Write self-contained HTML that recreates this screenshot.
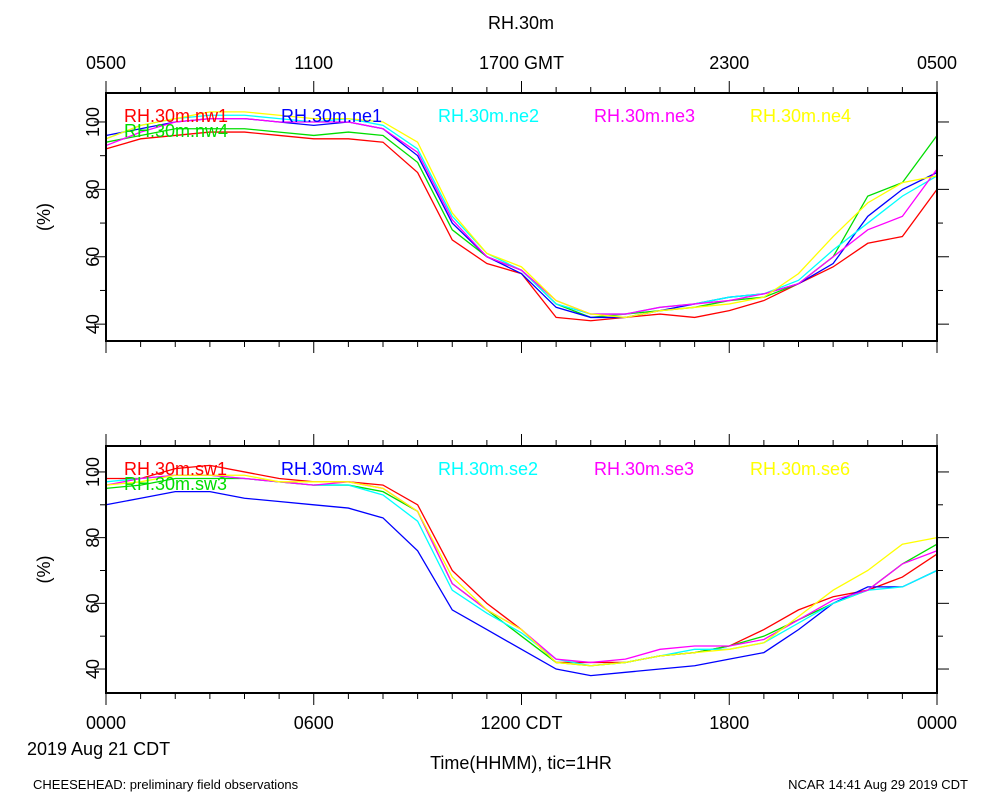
<!DOCTYPE html>
<html><head><meta charset="utf-8"><style>
body{margin:0;background:#fff}
svg text{font-family:"Liberation Sans",sans-serif}
</style></head><body>
<svg id="c" width="1000" height="800" xmlns="http://www.w3.org/2000/svg">
<text x="521" y="29" font-size="18" text-anchor="middle">RH.30m</text>
<text x="521" y="769" font-size="18" text-anchor="middle">Time(HHMM), tic=1HR</text>
<text x="27" y="755" font-size="18">2019 Aug 21 CDT</text>
<text x="33" y="789" font-size="13">CHEESEHEAD: preliminary field observations</text>
<text x="968" y="789" font-size="13" text-anchor="end">NCAR 14:41 Aug 29 2019 CDT</text>
</svg>
<script>
const hours=[0,1,2,3,4,5,6,7,8,9,10,11,12,13,14,15,16,17,18,19,20,21,22,23,24];
const topTickLabels=["0500","1100","1700 GMT","2300","0500"];
const botTickLabels=["0000","0600","1200 CDT","1800","0000"];
const yTicks=[40,60,80,100];
const topNames=["RH.30m.nw1","RH.30m.nw4","RH.30m.ne1","RH.30m.ne2","RH.30m.ne3","RH.30m.ne4"];
const botNames=["RH.30m.sw1","RH.30m.sw3","RH.30m.sw4","RH.30m.se2","RH.30m.se3","RH.30m.se6"];
const nw1=[92,95,96,97,97,96,95,95,94,85,65,58,55,42,41,42,43,42,44,47,52,57,64,66,80];
const nw4=[94,96,98,98,98,97,96,97,96,88,68,60,56,46,42,43,44,45,47,48,52,60,78,82,96];
const ne1=[96,98,100,101,101,100,99,100,98,90,70,60,55,45,42,42,44,46,48,49,52,58,72,80,85];
const ne2=[95,99,101,102,102,101,100,101,99,92,72,61,56,46,43,43,45,46,48,49,53,62,70,78,84];
const ne3=[93,97,100,101,101,100,100,100,98,91,71,60,56,47,43,43,45,46,47,49,52,60,68,72,86];
const ne4=[95,99,101,103,103,102,101,101,100,94,73,61,57,47,43,42,44,45,46,48,55,66,76,82,84];
const sw1=[98,98,101,102,100,98,97,97,96,90,70,60,52,42,42,42,44,45,47,52,58,62,64,68,75];
const sw3=[95,96,98,98,98,97,96,96,94,88,66,58,50,42,41,42,44,45,47,50,55,60,64,72,78];
const sw4=[90,92,94,94,92,91,90,89,86,76,58,52,46,40,38,39,40,41,43,45,52,60,65,65,70];
const se2=[97,98,99,99,98,97,96,96,93,85,64,57,51,43,41,42,44,46,46,48,54,60,64,65,70];
const se3=[96,98,99,99,98,97,96,97,95,88,66,58,52,43,42,43,46,47,47,49,55,61,64,72,76];
const se6=[96,97,99,99,99,97,97,97,95,88,68,58,52,42,41,42,44,45,46,48,56,64,70,78,80];
const colors=["#f00","#0d0","#00f","#0ff","#f0f","#ff0"];
const NS="http://www.w3.org/2000/svg";
const svg=document.getElementById('c');
function mk(t,a){const e=document.createElementNS(NS,t);for(const k in a)e.setAttribute(k,a[k]);svg.appendChild(e);return e;}
const X0=106,X1=937;
function xs(h){return X0+(X1-X0)*h/24;}
function panel(pid,top,bot,ymin,ymax,series,names,labels,labelY){
  const ys=v=>bot-(v-ymin)/(ymax-ymin)*(bot-top);
  series.forEach((s,i)=>{
    const p=mk('polyline',{points:s.map((v,j)=>xs(hours[j])+','+ys(v)).join(' '),fill:'none',stroke:colors[i],'stroke-width':1.3});
    
    
  });
  const lx=[124,124,281,438,594,750];
  names.forEach((n,i)=>{
    const t=mk('text',{x:lx[i],y:top+(i==1?44:29),'font-size':18,fill:colors[i]});t.textContent=n;
    
    
  });
  const r=mk('rect',{x:X0,y:top,width:X1-X0,height:bot-top,fill:'none',stroke:'#000','stroke-width':2});
  
  
  for(let h=0;h<=24;h++){
    const L=h%6==0?12:6;
    mk('line',{x1:xs(h),x2:xs(h),y1:bot,y2:bot+L,stroke:'#000','stroke-width':1});
    mk('line',{x1:xs(h),x2:xs(h),y1:top,y2:top-L,stroke:'#000','stroke-width':1});
  }
  for(let v=Math.ceil(ymin/10)*10;v<=ymax;v+=10){
    const L=v%20==0?12:6;
    mk('line',{x1:X0,x2:X0-L,y1:ys(v),y2:ys(v),stroke:'#000','stroke-width':1});
    mk('line',{x1:X1,x2:X1+L,y1:ys(v),y2:ys(v),stroke:'#000','stroke-width':1});
  }
  yTicks.forEach(v=>{
    const t=mk('text',{x:0,y:0,'font-size':18,'text-anchor':'middle',transform:`translate(99,${ys(v)}) rotate(-90)`});t.textContent=v;
    
    
  });
  const yt=mk('text',{x:0,y:0,'font-size':18,'text-anchor':'middle',transform:`translate(50,${(top+bot)/2}) rotate(-90)`});yt.textContent='(%)';
  
  
  labels.forEach((l,i)=>{
    const t=mk('text',{x:xs(i*6),y:labelY,'font-size':18,'text-anchor':'middle'});t.textContent=l;
    
    
  });
}
panel('top',93,341,35,108.6,[nw1,nw4,ne1,ne2,ne3,ne4],topNames,topTickLabels,69);
panel('bottom',446,693,32.7,107.9,[sw1,sw3,sw4,se2,se3,se6],botNames,botTickLabels,729);
</script>
</body></html>
